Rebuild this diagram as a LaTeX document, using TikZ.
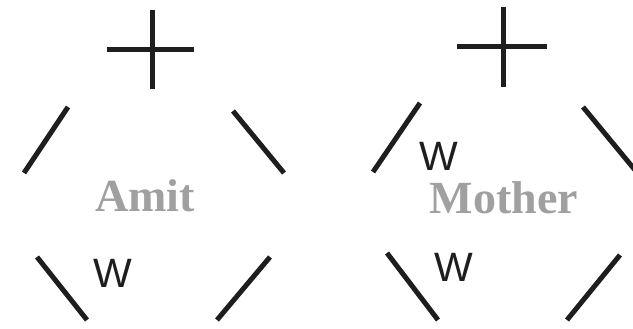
\documentclass[tikz,border=0pt]{standalone}
\usepackage{fontspec}
\setmainfont{Liberation Serif}
\newfontfamily\wfont{Liberation Sans}
\definecolor{namegray}{RGB}{160,160,160}
\definecolor{ink}{RGB}{30,30,30}

\begin{document}
\begin{tikzpicture}[x=1pt, y=-1pt,
    stroke/.style={line width=5pt, draw=ink},
    person/.style={font=\bfseries\fontsize{46}{46}\selectfont, text=namegray, inner sep=0pt},
    wmark/.style={font=\wfont\fontsize{41}{41}\selectfont, text=ink, inner sep=0pt}]
                \useasboundingbox (0, 0) rectangle (633, 329);
                % Left figure:
                \draw[stroke] (107, 50) -- (194, 50);
                \draw[stroke] (152, 10) -- (152, 89);
                \draw[stroke] (68, 107) -- (24, 173);
                \draw[stroke] (233, 111) -- (284, 173);
                \draw[stroke] (37, 257) -- (87, 320);
                \draw[stroke] (270, 257) -- (217, 320);
                \node[person](amit) at (145, 196){Amit};
                \node[wmark](w1) at (113, 273){W};
                % Right figure:
                \draw[stroke] (457, 47) -- (547, 47);
                \draw[stroke] (503, 7) -- (503, 87);
                \draw[stroke] (420, 103) -- (373, 172);
                \draw[stroke] (583, 107) -- (635, 170);
                \draw[stroke] (387, 253) -- (438, 320);
                \draw[stroke] (620, 255) -- (567, 320);
                \node[person](mother) at (504, 198){Mother};
                \node[wmark](w2) at (439, 156){W};
                \node[wmark](w3) at (454, 267){W};
            \end{tikzpicture}
\end{document}
